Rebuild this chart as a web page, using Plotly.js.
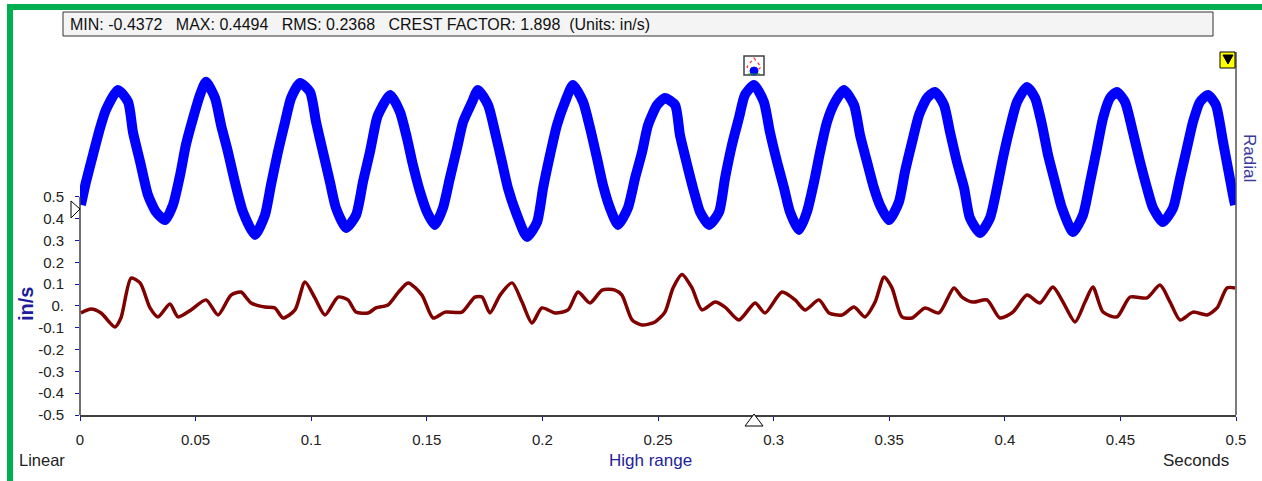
<!DOCTYPE html>
<html>
<head>
<meta charset="utf-8">
<script src="https://cdn.plot.ly/plotly-3.0.1.min.js"></script>
<style>
html,body{margin:0;padding:0;background:#fff;}
#chart{width:1262px;height:481px;}
</style>
</head>
<body>
<div id="chart"></div>
<script>
// Radial waveform (drawn with its strip offset), time in seconds
const blueT = [0.0004, 0.0026, 0.0056, 0.0087, 0.0112, 0.0164, 0.0208, 0.0229, 0.0260, 0.0294, 0.0329, 0.0368, 0.0402, 0.0433, 0.0458, 0.0489, 0.0519, 0.0545, 0.0584, 0.0610, 0.0640, 0.0670, 0.0705, 0.0757, 0.0800, 0.0826, 0.0856, 0.0887, 0.0913, 0.0952, 0.0995, 0.1021, 0.1051, 0.1081, 0.1107, 0.1151, 0.1194, 0.1224, 0.1254, 0.1280, 0.1289, 0.1341, 0.1384, 0.1414, 0.1440, 0.1471, 0.1501, 0.1535, 0.1570, 0.1600, 0.1631, 0.1657, 0.1696, 0.1721, 0.1765, 0.1795, 0.1825, 0.1851, 0.1890, 0.1933, 0.1977, 0.2003, 0.2033, 0.2063, 0.2098, 0.2132, 0.2176, 0.2206, 0.2236, 0.2262, 0.2292, 0.2327, 0.2370, 0.2401, 0.2431, 0.2457, 0.2496, 0.2530, 0.2574, 0.2595, 0.2626, 0.2656, 0.2682, 0.2721, 0.2764, 0.2790, 0.2820, 0.2850, 0.2876, 0.2915, 0.2958, 0.2984, 0.3015, 0.3045, 0.3071, 0.3110, 0.3144, 0.3175, 0.3201, 0.3231, 0.3266, 0.3304, 0.3348, 0.3374, 0.3404, 0.3434, 0.3460, 0.3499, 0.3542, 0.3568, 0.3599, 0.3629, 0.3664, 0.3698, 0.3737, 0.3763, 0.3793, 0.3824, 0.3849, 0.3893, 0.3936, 0.3966, 0.3992, 0.4022, 0.4053, 0.4096, 0.4131, 0.4161, 0.4187, 0.4217, 0.4247, 0.4295, 0.4338, 0.4369, 0.4399, 0.4425, 0.4455, 0.4485, 0.4520, 0.4554, 0.4585, 0.4615, 0.4641, 0.4684, 0.4728, 0.4758, 0.4788, 0.4814, 0.4844, 0.4879, 0.4913, 0.4944, 0.4965, 0.4987, 0.4996];
const blueV = [0.463, 0.569, 0.693, 0.817, 0.899, 0.991, 0.936, 0.798, 0.661, 0.509, 0.431, 0.394, 0.463, 0.601, 0.739, 0.862, 0.968, 1.028, 0.954, 0.830, 0.706, 0.569, 0.431, 0.326, 0.417, 0.555, 0.706, 0.844, 0.954, 1.023, 0.982, 0.844, 0.706, 0.569, 0.450, 0.358, 0.417, 0.569, 0.706, 0.844, 0.876, 0.968, 0.890, 0.771, 0.647, 0.523, 0.431, 0.372, 0.450, 0.587, 0.725, 0.844, 0.936, 0.991, 0.922, 0.798, 0.661, 0.541, 0.417, 0.317, 0.385, 0.541, 0.693, 0.830, 0.936, 1.014, 0.936, 0.817, 0.679, 0.555, 0.450, 0.372, 0.450, 0.587, 0.706, 0.830, 0.922, 0.954, 0.922, 0.784, 0.647, 0.523, 0.431, 0.372, 0.431, 0.587, 0.739, 0.862, 0.968, 1.014, 0.936, 0.798, 0.661, 0.541, 0.431, 0.349, 0.431, 0.569, 0.706, 0.844, 0.936, 0.991, 0.922, 0.784, 0.661, 0.541, 0.463, 0.394, 0.477, 0.615, 0.752, 0.876, 0.954, 0.982, 0.922, 0.798, 0.661, 0.541, 0.404, 0.335, 0.404, 0.541, 0.679, 0.817, 0.936, 1.005, 0.954, 0.830, 0.693, 0.569, 0.450, 0.339, 0.417, 0.569, 0.725, 0.862, 0.954, 0.982, 0.936, 0.798, 0.661, 0.541, 0.450, 0.385, 0.450, 0.587, 0.725, 0.844, 0.936, 0.968, 0.922, 0.752, 0.633, 0.509, 0.463];

// Second waveform (dark red)
const redT = [0.0004, 0.0048, 0.0091, 0.0151, 0.0177, 0.0221, 0.0260, 0.0303, 0.0337, 0.0389, 0.0424, 0.0480, 0.0545, 0.0597, 0.0653, 0.0696, 0.0740, 0.0800, 0.0843, 0.0878, 0.0930, 0.0973, 0.1016, 0.1060, 0.1116, 0.1159, 0.1194, 0.1246, 0.1280, 0.1332, 0.1375, 0.1419, 0.1479, 0.1527, 0.1579, 0.1652, 0.1708, 0.1739, 0.1773, 0.1817, 0.1869, 0.1912, 0.1955, 0.1998, 0.2055, 0.2111, 0.2154, 0.2206, 0.2258, 0.2314, 0.2344, 0.2388, 0.2431, 0.2487, 0.2530, 0.2565, 0.2604, 0.2647, 0.2690, 0.2747, 0.2790, 0.2850, 0.2920, 0.2963, 0.3036, 0.3093, 0.3136, 0.3196, 0.3240, 0.3296, 0.3348, 0.3395, 0.3439, 0.3478, 0.3512, 0.3555, 0.3599, 0.3655, 0.3715, 0.3780, 0.3815, 0.3862, 0.3923, 0.3979, 0.4035, 0.4096, 0.4152, 0.4208, 0.4252, 0.4304, 0.4347, 0.4381, 0.4425, 0.4485, 0.4542, 0.4615, 0.4671, 0.4715, 0.4758, 0.4814, 0.4875, 0.4918, 0.4961, 0.4996];
const redV = [-0.032, -0.014, -0.032, -0.096, -0.055, 0.128, 0.106, -0.009, -0.050, 0.009, -0.050, -0.018, 0.028, -0.041, 0.050, 0.064, 0.014, -0.005, -0.009, -0.055, -0.018, 0.110, 0.037, -0.041, 0.041, 0.028, -0.028, -0.032, -0.009, 0.005, 0.060, 0.106, 0.050, -0.055, -0.028, -0.028, 0.041, 0.041, -0.032, 0.050, 0.106, 0.018, -0.078, -0.009, -0.032, -0.018, 0.064, 0.014, 0.073, 0.073, 0.050, -0.064, -0.087, -0.073, -0.028, 0.083, 0.145, 0.083, -0.018, 0.018, -0.005, -0.064, 0.014, -0.032, 0.064, 0.028, -0.018, 0.028, -0.032, -0.041, -0.005, -0.050, 0.018, 0.133, 0.083, -0.050, -0.055, -0.009, -0.032, 0.083, 0.041, 0.018, 0.028, -0.055, -0.028, 0.050, 0.014, 0.087, 0.018, -0.073, 0.018, 0.087, -0.028, -0.050, 0.041, 0.037, 0.096, 0.018, -0.064, -0.028, -0.041, -0.009, 0.083, 0.083];

const xTickVals = [0, 0.05, 0.1, 0.15, 0.2, 0.25, 0.3, 0.35, 0.4, 0.45, 0.5];
const xTickText = ["0", "0.05", "0.1", "0.15", "0.2", "0.25", "0.3", "0.35", "0.4", "0.45", "0.5"];
const yTickVals = [0.5, 0.4, 0.3, 0.2, 0.1, 0, -0.1, -0.2, -0.3, -0.4, -0.5];
const yTickText = ["0.5", "0.4", "0.3", "0.2", "0.1", "0.", "-0.1", "-0.2", "-0.3", "-0.4", "-0.5"];

const headerText = "MIN: -0.4372\u00a0\u00a0\u00a0MAX: 0.4494\u00a0\u00a0\u00a0RMS: 0.2368\u00a0\u00a0\u00a0CREST FACTOR: 1.898\u00a0\u00a0(Units: in/s)";

const FONT = "Liberation Sans, Arial, sans-serif";

const traces = [
  {x: redT, y: redV, type: 'scatter', mode: 'lines', line: {color: '#800000', width: 3.5, shape: 'spline', smoothing: 0.7}, hoverinfo: 'skip'},
  {x: blueT, y: blueV, type: 'scatter', mode: 'lines', line: {color: '#0000ff', width: 10, shape: 'spline', smoothing: 0.6}, hoverinfo: 'skip'}
];

function px(x){ return (x - 80) / 1156; }
function py(y){ return (415 - y) / 363; }

const shapes = [
  {type: 'rect', xref: 'paper', yref: 'paper', x0: px(10), x1: px(1265), y0: py(484), y1: py(7), line: {color: '#00b050', width: 6}, fillcolor: 'rgba(0,0,0,0)', layer: 'above'},
  {type: 'rect', xref: 'paper', yref: 'paper', x0: px(63), x1: px(1213), y0: py(36), y1: py(12), line: {color: '#333333', width: 1}, fillcolor: '#f4f4f4', layer: 'below'},
  {type: 'line', xref: 'paper', yref: 'y', x0: 0, x1: 0, y0: -0.5, y1: 0.5, line: {color: '#404040', width: 1.5}, layer: 'above'},
  {type: 'line', xref: 'paper', yref: 'paper', x0: 1, x1: 1, y0: 0, y1: 1, line: {color: '#505050', width: 1.5}, layer: 'above'},
  {type: 'path', xref: 'paper', yref: 'paper', path: `M ${px(71)} ${py(201)} L ${px(80)} ${py(209)} L ${px(71)} ${py(218)} Z`, fillcolor: '#ffffff', line: {color: '#000000', width: 1}, layer: 'above'},
  {type: 'path', xref: 'paper', yref: 'paper', path: `M ${px(754)} ${py(414)} L ${px(763)} ${py(426)} L ${px(745)} ${py(426)} Z`, fillcolor: '#ffffff', line: {color: '#000000', width: 1}, layer: 'above'},
  {type: 'rect', xref: 'paper', yref: 'paper', x0: px(1220), x1: px(1235), y0: py(68), y1: py(52), fillcolor: '#ffff00', line: {color: '#000000', width: 1}, layer: 'above'},
  {type: 'path', xref: 'paper', yref: 'paper', path: `M ${px(1223)} ${py(55)} L ${px(1233)} ${py(55)} L ${px(1228)} ${py(64)} Z`, fillcolor: '#000000', line: {color: '#000000', width: 1}, layer: 'above'},
  {type: 'rect', xref: 'paper', yref: 'paper', x0: px(744), x1: px(764), y0: py(75), y1: py(56), fillcolor: 'rgba(255,255,255,0.85)', line: {color: '#404040', width: 1.5}, layer: 'above'},
  {type: 'path', xref: 'paper', yref: 'paper', path: `M ${px(754)} ${py(58)} L ${px(761)} ${py(67)} L ${px(754)} ${py(74)} L ${px(747)} ${py(67)} Z`, fillcolor: 'rgba(0,0,0,0)', line: {color: '#ff3030', width: 1.2, dash: 'dot'}, layer: 'above'},
  {type: 'circle', xref: 'paper', yref: 'paper', x0: px(750), x1: px(758), y0: py(75), y1: py(67), fillcolor: '#0000ff', line: {color: '#0000ff', width: 1}, layer: 'above'},
  {type: 'line', xref: 'paper', yref: 'paper', x0: px(748), x1: px(760), y0: py(74), y1: py(74), line: {color: '#20a020', width: 1}, layer: 'above'}
];

const annotations = [
  {text: headerText, xref: 'paper', yref: 'paper', x: px(68), y: py(24), xanchor: 'left', yanchor: 'middle', showarrow: false, font: {family: FONT, size: 16, color: '#111111'}},
  {text: '<b>in/s</b>', xref: 'paper', yref: 'paper', x: px(26), y: py(304), xanchor: 'center', yanchor: 'middle', textangle: -90, showarrow: false, font: {family: FONT, size: 20, color: '#1c1c9c'}},
  {text: 'Radial', xref: 'paper', yref: 'paper', x: px(1250), y: py(158), xanchor: 'center', yanchor: 'middle', textangle: 90, showarrow: false, font: {family: FONT, size: 17, color: '#3a3a9c'}},
  {text: 'Linear', xref: 'paper', yref: 'paper', x: px(17), y: py(460), xanchor: 'left', yanchor: 'middle', showarrow: false, font: {family: FONT, size: 16.5, color: '#222222'}},
  {text: 'High range', xref: 'paper', yref: 'paper', x: px(650), y: py(460), xanchor: 'center', yanchor: 'middle', showarrow: false, font: {family: FONT, size: 17, color: '#22229c'}},
  {text: 'Seconds', xref: 'paper', yref: 'paper', x: px(1231), y: py(460), xanchor: 'right', yanchor: 'middle', showarrow: false, font: {family: FONT, size: 17, color: '#222222'}}
];

const layout = {
  width: 1262, height: 481, autosize: false,
  margin: {l: 80, r: 26, t: 52, b: 66, pad: 0},
  paper_bgcolor: '#ffffff', plot_bgcolor: '#ffffff',
  showlegend: false,
  font: {family: FONT, size: 15, color: '#222222'},
  xaxis: {
    range: [0, 0.5], tickmode: 'array', tickvals: xTickVals, ticktext: xTickText,
    ticks: 'outside', ticklen: 4, tickwidth: 1, tickcolor: '#1010c0',
    showline: true, linecolor: '#404040', linewidth: 1.5,
    showgrid: false, zeroline: false, fixedrange: true,
    tickfont: {family: FONT, size: 15, color: '#222222'}, ticklabelstandoff: 6
  },
  yaxis: {
    range: [-0.5, 1.165], tickmode: 'array', tickvals: yTickVals, ticktext: yTickText,
    ticks: 'outside', ticklen: 4, tickwidth: 1, tickcolor: '#1010c0',
    showline: false, showgrid: false, zeroline: false, fixedrange: true,
    tickfont: {family: FONT, size: 15, color: '#222222'}, ticklabelstandoff: 8
  },
  shapes: shapes,
  annotations: annotations
};

Plotly.newPlot('chart', traces, layout, {displayModeBar: false, staticPlot: true});
</script>
</body>
</html>
